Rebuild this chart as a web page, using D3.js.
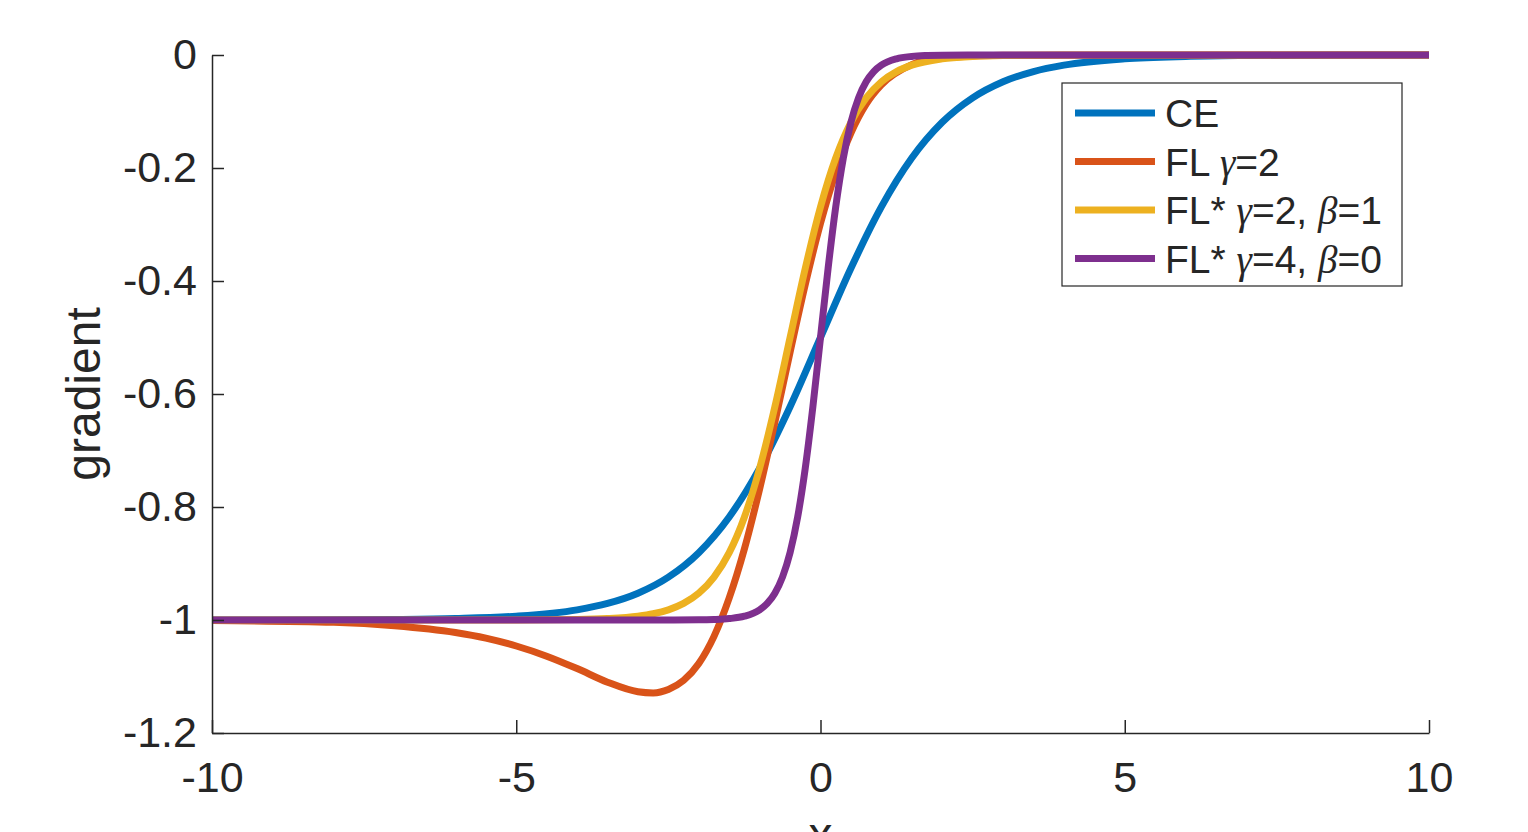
<!DOCTYPE html>
<html>
<head>
<meta charset="utf-8">
<script src="https://cdn.jsdelivr.net/npm/d3@7"></script>
<style>
  body { margin: 0; background: #fff; }
  text { font-family: "Liberation Sans", Arial, Helvetica, sans-serif; fill: #262626; }
</style>
</head>
<body>
<div id="chart"></div>
<script>
// values
var xTicks = [-10, -5, 0, 5, 10];
var yTicks = [0, -0.2, -0.4, -0.6, -0.8, -1, -1.2];

var ceX = [-10, -8, -7, -6, -5, -4, -3.5, -3, -2.5, -2, -1.5, -1, -0.5, 0, 0.5, 1, 1.5, 2, 2.5, 3, 3.5, 4, 5, 6, 7, 8, 10];
var ceY = [-1, -0.9997, -0.9991, -0.9975, -0.9933, -0.982, -0.9707, -0.9526, -0.9241, -0.8808, -0.8176, -0.7311, -0.6225, -0.5, -0.3775, -0.2689, -0.1824, -0.1192, -0.0759, -0.0474, -0.0293, -0.018, -0.0067, -0.0025, -0.0009, -0.0003, 0];

var flX = [-10, -8, -7, -6, -5.5, -5, -4.5, -4, -3.5, -3, -2.75, -2.5, -2.25, -2, -1.75, -1.5, -1.25, -1, -0.75, -0.5, -0.25, 0, 0.25, 0.5, 0.75, 1, 1.5, 2, 3, 10];
var flY = [-1.001, -1.004, -1.01, -1.022, -1.032, -1.046, -1.064, -1.086, -1.11, -1.127, -1.129, -1.123, -1.107, -1.077, -1.029, -0.961, -0.874, -0.768, -0.65, -0.526, -0.406, -0.298, -0.208, -0.138, -0.087, -0.053, -0.017, -0.005, -0.0003, 0];

var fls1X = [-10, -5, -4, -3.5, -3, -2.75, -2.5, -2.25, -2, -1.75, -1.5, -1.25, -1, -0.75, -0.5, -0.25, 0, 0.25, 0.5, 0.75, 1, 1.25, 1.5, 2, 2.5, 3, 4, 10];
var fls1Y = [-1, -0.9999, -0.9991, -0.9975, -0.9933, -0.989, -0.982, -0.9707, -0.9526, -0.9241, -0.8808, -0.8176, -0.7311, -0.6225, -0.5, -0.3775, -0.2689, -0.1824, -0.1192, -0.0759, -0.0474, -0.0293, -0.018, -0.0067, -0.0025, -0.0009, -0.0001, 0];

var fls2X = [-10, -3, -2, -1.75, -1.5, -1.25, -1, -0.875, -0.75, -0.625, -0.5, -0.375, -0.25, -0.125, 0, 0.125, 0.25, 0.375, 0.5, 0.625, 0.75, 0.875, 1, 1.25, 1.5, 1.75, 2, 3, 10];
var fls2Y = [-1, -1, -0.9997, -0.9991, -0.9975, -0.9933, -0.982, -0.9707, -0.9526, -0.9241, -0.8808, -0.8176, -0.7311, -0.6225, -0.5, -0.3775, -0.2689, -0.1824, -0.1192, -0.0759, -0.0474, -0.0293, -0.018, -0.0067, -0.0025, -0.0009, -0.0003, 0, 0];

var colors = ["#0072BD", "#D95319", "#EDB120", "#7E2F8E"];

var svgWidth = 1528;
var svgHeight = 832;
var margin = { top: 55, right: 99, bottom: 99, left: 212 };
var width = svgWidth - margin.left - margin.right;
var height = svgHeight - margin.top - margin.bottom;

var svg = d3.select("#chart")
  .append("svg")
  .attr("width", svgWidth)
  .attr("height", svgHeight);

var chartGroup = svg.append("g")
  .attr("transform", `translate(${margin.left},${margin.top})`);

var xScale = d3.scaleLinear().domain([-10, 10]).range([0, width]);
var yScale = d3.scaleLinear().domain([-1.2, 0]).range([height, 0]);

// curves
var series = [
  { xs: ceX, ys: ceY },
  { xs: flX, ys: flY },
  { xs: fls1X, ys: fls1Y },
  { xs: fls2X, ys: fls2Y }
];

var line = d3.line()
  .x(d => xScale(d[0]))
  .y(d => yScale(d[1]))
  .curve(d3.curveMonotoneX);

series.forEach(function (s, i) {
  var pts = s.xs.map((x, j) => [x, s.ys[j]]);
  chartGroup.append("path")
    .datum(pts)
    .attr("d", line)
    .attr("fill", "none")
    .attr("stroke", colors[i])
    .attr("stroke-width", 7)
    .attr("stroke-linejoin", "round");
});

// plain hyphen minus like matlab
function fmt(d) {
  return String(+d.toFixed(1)).replace("\u2212", "-");
}

// axes, ticks pointing inward like matlab
var bottomAxis = d3.axisBottom(xScale)
  .tickValues(xTicks)
  .tickSizeInner(-13)
  .tickSizeOuter(0)
  .tickPadding(28)
  .tickFormat(fmt);

var leftAxis = d3.axisLeft(yScale)
  .tickValues(yTicks)
  .tickSizeInner(-12)
  .tickSizeOuter(0)
  .tickPadding(15)
  .tickFormat(fmt);

var xAxis = chartGroup.append("g")
  .attr("transform", `translate(0,${height})`)
  .call(bottomAxis);

var yAxis = chartGroup.append("g")
  .call(leftAxis);

[xAxis, yAxis].forEach(function (a) {
  a.select(".domain").attr("stroke", "#262626").attr("stroke-width", 1.5);
  a.selectAll(".tick line").attr("stroke", "#262626").attr("stroke-width", 1.5);
  a.selectAll(".tick text")
    .style("font-family", "'Liberation Sans', Arial, sans-serif")
    .attr("font-size", 43)
    .attr("fill", "#262626");
});
xAxis.selectAll(".tick text").attr("dy", "0.71em");

// axis titles
chartGroup.append("text")
  .attr("transform", "rotate(-90)")
  .attr("x", -(yScale(-0.6)))
  .attr("y", -112)
  .attr("text-anchor", "middle")
  .attr("font-size", 48)
  .text("gradient");

// x label sits partly below the bottom edge, as in the source image
chartGroup.append("text")
  .attr("x", xScale(0))
  .attr("y", 796)
  .attr("text-anchor", "middle")
  .attr("font-size", 48)
  .text("x");

// legend
var legendNames = [
  [["CE", false]],
  [["FL ", false], ["γ", true], ["=2", false]],
  [["FL* ", false], ["γ", true], ["=2, ", false], ["β", true], ["=1", false]],
  [["FL* ", false], ["γ", true], ["=4, ", false], ["β", true], ["=0", false]]
];

var legend = svg.append("g")
  .attr("transform", "translate(1062,83)");

legend.append("rect")
  .attr("width", 340)
  .attr("height", 203)
  .attr("fill", "#fff")
  .attr("stroke", "#262626")
  .attr("stroke-width", 1.2);

legendNames.forEach(function (parts, i) {
  var yy = 30 + i * 48.5;
  legend.append("line")
    .attr("x1", 13)
    .attr("x2", 93)
    .attr("y1", yy)
    .attr("y2", yy)
    .attr("stroke", colors[i])
    .attr("stroke-width", 7);
  var t = legend.append("text")
    .attr("x", 103)
    .attr("y", yy + 14)
    .attr("font-size", 39)
    .attr("fill", "#000");
  parts.forEach(function (p) {
    var ts = t.append("tspan").text(p[0]);
    if (p[1]) {
      ts.style("font-family", "'Liberation Serif', 'DejaVu Serif', serif")
        .style("font-style", "italic");
    }
  });
});
</script>
</body>
</html>
